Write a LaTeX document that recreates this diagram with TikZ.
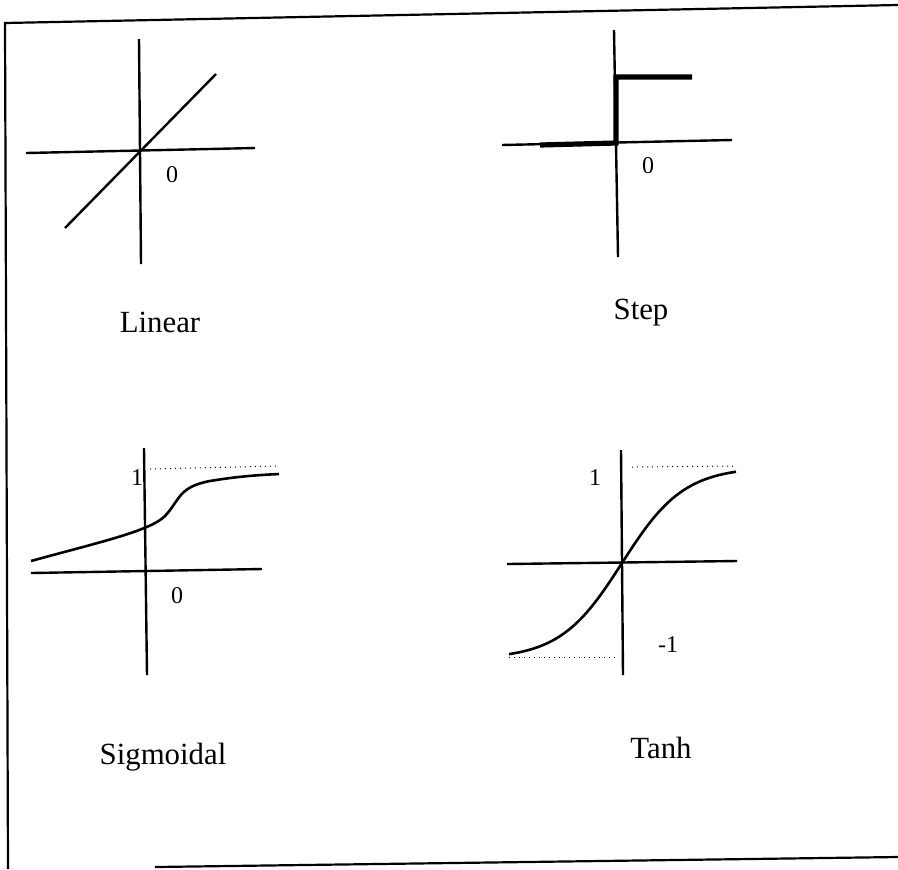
\documentclass[tikz,border=0pt]{standalone}
\usepackage{fontspec}
\setmainfont{Liberation Serif}
\begin{document}
\begin{tikzpicture}[x=0.5pt,y=-0.5pt,
  axis/.style={line width=1.2pt},
  frameline/.style={line width=1.1pt},
  curve/.style={line width=1.3pt},
  thickstep/.style={line width=2.6pt},
  guide/.style={line width=0.5pt, dotted},
  title/.style={font=\fontsize{15.4}{17}\selectfont, inner sep=0pt},
  tick/.style={font=\fontsize{12}{14}\selectfont, inner sep=0pt}]
\useasboundingbox (0,0) rectangle (898,869);
% frame
\coordinate (ftl) at (5,23);
\coordinate (ftr) at (898,5);
\coordinate (fbl) at (8,869);
\coordinate (fbs) at (155,867);
\coordinate (fbr) at (898,857);
\draw[frameline] (fbl) -- (ftl) -- (ftr);
\draw[frameline] (fbs) -- (fbr);

% ---------- Linear ----------
\coordinate (lvt) at (139,39);
\coordinate (lvb) at (141,264);
\coordinate (lhl) at (26,153);
\coordinate (lhr) at (255,148);
\coordinate (lda) at (65,228);
\coordinate (ldb) at (216,74);
\draw[axis] (lvt) -- (lvb);
\draw[axis] (lhl) -- (lhr);
\draw[axis] (lda) -- (ldb);
\node[tick] (lzero) at (172,175) {0};
\node[title] (ltitle) at (160,322) {Linear};

% ---------- Step ----------
\coordinate (svt) at (614,30);
\coordinate (svb) at (618,257);
\coordinate (shl) at (502,145);
\coordinate (shr) at (732,140);
\coordinate (sa) at (540,145);
\coordinate (sb) at (616,143);
\coordinate (sc) at (616,77);
\coordinate (sd) at (692,77);
\draw[axis] (svt) -- (svb);
\draw[axis] (shl) -- (shr);
\draw[thickstep] (sa) -- (sb) -- (sc) -- (sd);
\node[tick] (szero) at (648,166) {0};
\node[title] (stitle) at (641,313) {Step};

% ---------- Sigmoidal ----------
\coordinate (gvt) at (144,448);
\coordinate (gvb) at (147,675);
\coordinate (ghl) at (31,573);
\coordinate (ghr) at (262,569);
\coordinate (gdl) at (150,469);
\coordinate (gdr) at (279,466);
\coordinate (gc0) at (31,561);
\coordinate (gc1) at (165,516);
\coordinate (gc2) at (210,481);
\coordinate (gc3) at (279,474);
\draw[axis] (gvt) -- (gvb);
\draw[axis] (ghl) -- (ghr);
\draw[guide] (gdl) -- (gdr);
\draw[curve] (gc0) .. controls (100,542) and (150,531) .. (gc1)
  .. controls (180,500) and (178,487) .. (gc2)
  .. controls (240,476) and (260,475) .. (gc3);
\node[tick] (gone) at (137,478) {1};
\node[tick] (gzero) at (177,596) {0};
\node[title] (gtitle) at (163,757) {Sigmoidal};

% ---------- Tanh ----------
\coordinate (tvt) at (621,450);
\coordinate (tvb) at (623,675);
\coordinate (thl) at (507,564);
\coordinate (thr) at (737,561);
\coordinate (tdt1) at (632,467);
\coordinate (tdt2) at (737,466);
\coordinate (tdb1) at (509,657);
\coordinate (tdb2) at (617,657);
\draw[axis] (tvt) -- (tvb);
\draw[axis] (thl) -- (thr);
\draw[guide] (tdt1) -- (tdt2);
\draw[guide] (tdb1) -- (tdb2);
\draw[curve] plot[domain=-113:114, samples=80, smooth] ({622+\x},{563-96*tanh(\x/62)});
\node[tick] (tone) at (595,478) {1};
\node[tick] (tmone) at (668,645) {-1};
\node[title] (ttitle) at (661,748) {Tanh};
\end{tikzpicture}
\end{document}
